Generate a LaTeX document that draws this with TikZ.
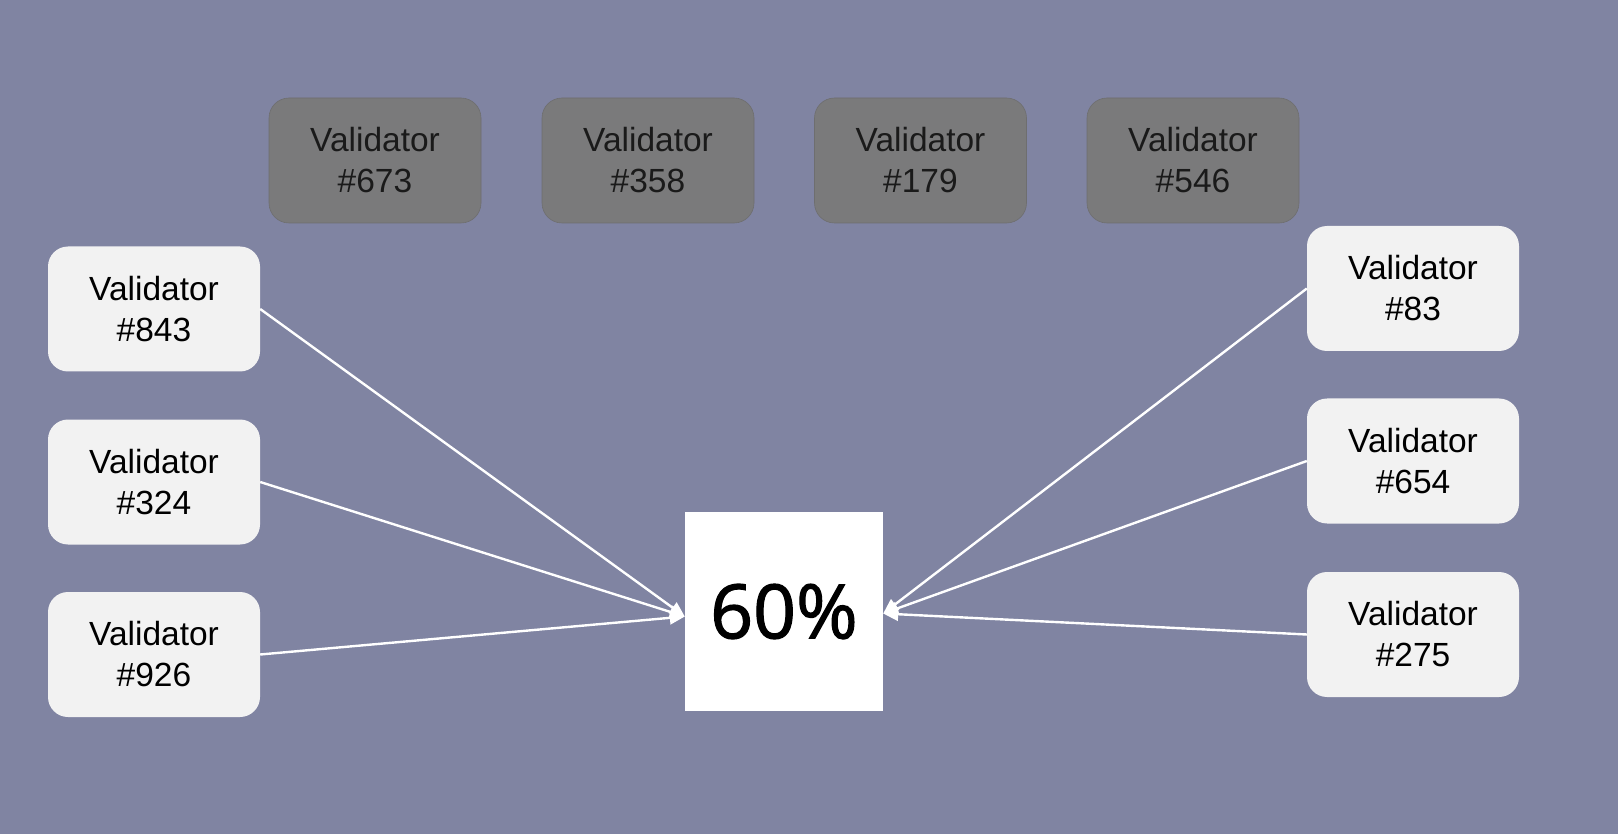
\documentclass[tikz,border=0pt]{standalone}
\usepackage{fontspec}
\setmainfont{Liberation Sans}
\newfontfamily\pctfont[FakeBold=1.6]{Open Sans}
\usetikzlibrary{arrows.meta}
\definecolor{bgc}{HTML}{8084A2}
\definecolor{greybox}{HTML}{7A7A7B}
\definecolor{lightbox}{HTML}{F2F2F2}
\definecolor{greytext}{HTML}{1A1A1A}
\tikzset{
  valbox/.style={rounded corners=20pt, minimum width=212pt, minimum height=125pt, inner sep=0pt,
    align=center, font=\fontsize{33.5pt}{41pt}\selectfont},
  lightval/.style={valbox, fill=lightbox, text=black},
  greyval/.style={valbox, fill=greybox, draw=greybox!90!black, line width=0.6pt, text=greytext},
  link/.style={draw=white, line width=2.4pt, -{Triangle[length=15pt,width=13pt]}}
}
\begin{document}
\begin{tikzpicture}[x=1pt,y=-1pt]
\fill[bgc] (0,0) rectangle (1618,834);
\useasboundingbox (0,0) rectangle (1618,834);
% grey validators
\node[greyval] (g673) at (375,160.5) {Validator\\\#673};
\node[greyval] (g358) at (648,160.5) {Validator\\\#358};
\node[greyval] (g179) at (920.5,160.5) {Validator\\\#179};
\node[greyval] (g546) at (1193,160.5) {Validator\\\#546};
% left validators
\node[lightval] (v843) at (154,309) {Validator\\\#843};
\node[lightval] (v324) at (154,482) {Validator\\\#324};
\node[lightval] (v926) at (154,654.5) {Validator\\\#926};
% right validators
\node[lightval] (v83) at (1413,288.5) {Validator\\\#83};
\node[lightval] (v654) at (1413,461) {Validator\\\#654};
\node[lightval] (v275) at (1413,634.5) {Validator\\\#275};
% center
\node[fill=white, minimum width=198pt, minimum height=199pt, inner sep=0pt,
  font=\pctfont\fontsize{75pt}{80pt}\selectfont] (pct) at (784,611.5) {60\%};
\coordinate (inL) at ([yshift=-5pt]pct.west);
\coordinate (inR) at ([yshift=-2pt]pct.east);
\draw[link] (v843.east) -- (inL);
\draw[link] (v324.east) -- (inL);
\draw[link] (v926.east) -- (inL);
\draw[link] (v83.west) -- (inR);
\draw[link] (v654.west) -- (inR);
\draw[link] (v275.west) -- (inR);
\end{tikzpicture}
\end{document}
